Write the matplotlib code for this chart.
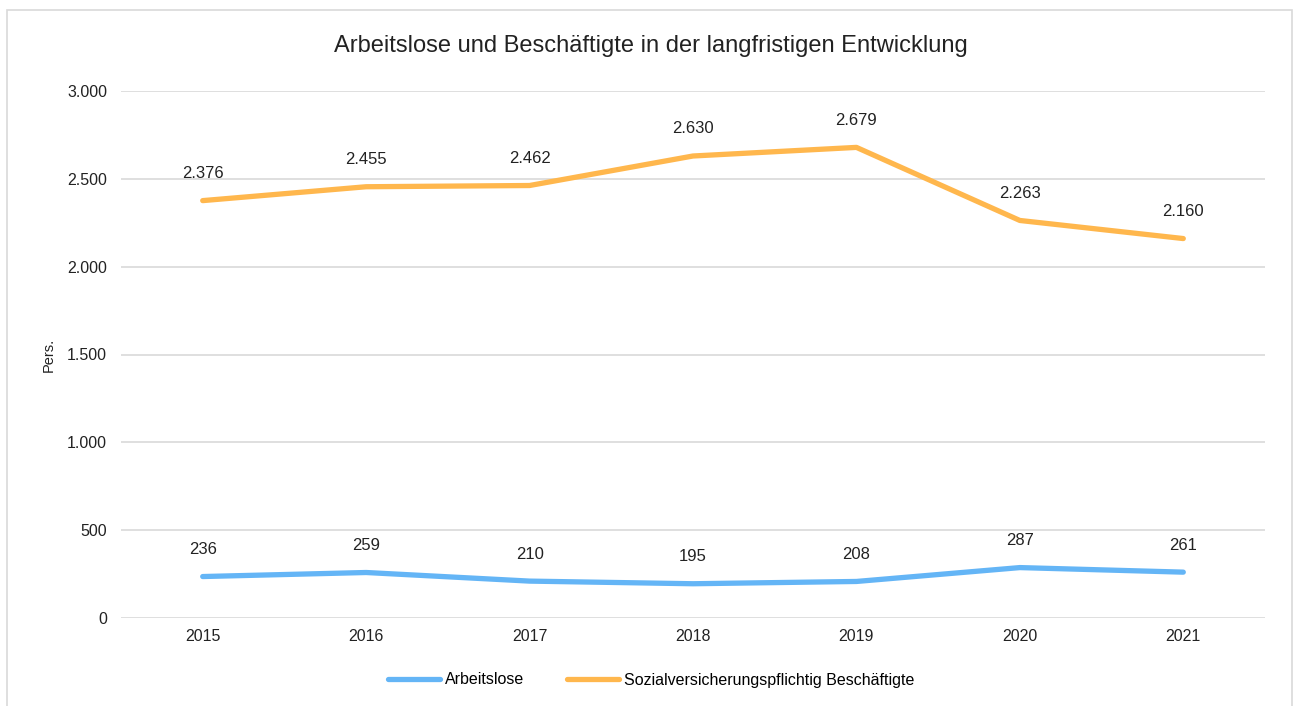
import matplotlib
matplotlib.use("Agg")
import matplotlib.pyplot as plt
from matplotlib.patches import Rectangle
from matplotlib.ticker import FuncFormatter

plt.rcParams['font.family'] = ['Liberation Sans', 'DejaVu Sans']

jahre = ['2015', '2016', '2017', '2018', '2019', '2020', '2021']
arbeitslose = [236, 259, 210, 195, 208, 287, 261]
beschaeftigte = [2376, 2455, 2462, 2630, 2679, 2263, 2160]

def tausender(v, pos=None):
    return f'{int(round(v)):,}'.replace(',', '.')

W, H = 1293, 706
fig = plt.figure(figsize=(W / 100, H / 100), dpi=100)
ax = fig.add_axes([121 / W, 1 - 618 / H, (1265 - 121) / W, (618 - 91) / H])

# Rahmen um das Diagramm
fig.patches.append(Rectangle((7 / W, -0.05), (1292 - 7) / W, 1.05 - 10 / H,
                             transform=fig.transFigure, fill=False,
                             edgecolor='#d9d9d9', linewidth=1.2))

x = range(len(jahre))
ax.plot(x, arbeitslose, color='#64b5f6', lw=3.8, solid_capstyle='round',
        label='Arbeitslose', zorder=3)
ax.plot(x, beschaeftigte, color='#ffb74d', lw=3.8, solid_capstyle='round',
        label='Sozialversicherungspflichtig Beschäftigte', zorder=3)

# Datenbeschriftungen ueber den Punkten
for reihe in (arbeitslose, beschaeftigte):
    for i, v in enumerate(reihe):
        ax.annotate(tausender(v), (i, v), xytext=(0, 19.5), textcoords='offset points',
                    ha='center', va='center', fontsize=12, color='#222222')

ax.set_xlim(-0.5, len(jahre) - 0.5)
ax.set_ylim(0, 3000)
ax.set_yticks(range(0, 3001, 500))
ax.yaxis.set_major_formatter(FuncFormatter(tausender))
ax.set_xticks(list(x))
ax.set_xticklabels(jahre)
ax.tick_params(length=0, labelsize=11.5, labelcolor='#222222')
ax.tick_params(axis='x', pad=8)
ax.tick_params(axis='y', pad=10)
ax.grid(axis='y', color='#d9d9d9', lw=1.2)
ax.set_axisbelow(True)
for s in ax.spines.values():
    s.set_visible(False)

ax.set_ylabel('Pers.', fontsize=10.5, color='#222222', labelpad=8)
fig.text(651 / W, 1 - 46 / H, 'Arbeitslose und Beschäftigte in der langfristigen Entwicklung',
         ha='center', va='center', fontsize=17, color='#222222')

ax.legend(loc='center', bbox_to_anchor=(651 / W, 1 - 680 / H), bbox_transform=fig.transFigure,
          ncol=2, frameon=False, fontsize=11.5, handlelength=3.25, handletextpad=0.3,
          columnspacing=2.7)

fig.savefig('out.png', dpi=100)
